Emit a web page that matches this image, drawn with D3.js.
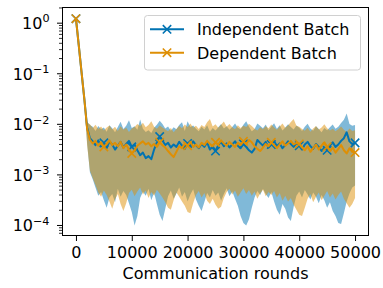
<!DOCTYPE html>
<html>
<head>
<meta charset="utf-8">
<script src="https://cdn.jsdelivr.net/npm/d3@7"></script>
<style>
  body { margin: 0; background: #fff; }
  svg { display: block; font-family: "DejaVu Sans", sans-serif; }
</style>
</head>
<body>
<svg id="chart" width="383" height="288"></svg>
<script>
// communication rounds, one sample every 500 rounds
const rounds = d3.range(0, 50001, 500);

// Independent Batch: mean, upper and lower edge of the shaded band
const indepMean = [1.2,0.36,0.105,0.031,0.0085,0.0052,0.0045,0.0038,0.0047,0.0036,
  0.0042,0.0033,0.0045,0.0039,0.0031,0.0037,0.0044,0.0034,0.0040,0.0046,
  0.0035,0.0039,0.0030,0.0024,0.0027,0.0021,0.0023,0.0020,0.0031,0.0043,
  0.0056,0.0047,0.0038,0.0042,0.0034,0.0039,0.0035,0.0044,0.0037,0.0032,
  0.0041,0.0036,0.0045,0.0038,0.0033,0.0040,0.0035,0.0043,0.0031,0.0036,
  0.0029,0.0038,0.0044,0.0036,0.0041,0.0034,0.0039,0.0045,0.0037,0.0033,
  0.0040,0.0035,0.0030,0.0027,0.0032,0.0048,0.0042,0.0037,0.0044,0.0034,
  0.0039,0.0046,0.0036,0.0041,0.0033,0.0038,0.0045,0.0040,0.0035,0.0042,
  0.0037,0.0031,0.0039,0.0044,0.0036,0.0032,0.0040,0.0035,0.0029,0.0034,
  0.0030,0.0037,0.0043,0.0035,0.0039,0.0046,0.0052,0.0068,0.0045,0.0040,
  0.0042];
const indepUpper = [1.25,0.38,0.11,0.034,0.011,0.0095,0.0088,0.0072,0.0091,0.0078,
  0.0085,0.0070,0.0094,0.0082,0.0068,0.0087,0.0110,0.0079,0.0092,0.0118,
  0.0083,0.0090,0.0076,0.0122,0.0080,0.0069,0.0075,0.0066,0.0084,0.0096,
  0.0115,0.0099,0.0081,0.0089,0.0073,0.0086,0.0078,0.0095,0.0108,0.0072,
  0.0112,0.0087,0.0093,0.0080,0.0071,0.0088,0.0077,0.0094,0.0070,0.0083,
  0.0074,0.0086,0.0099,0.0081,0.0090,0.0076,0.0087,0.0102,0.0084,0.0078,
  0.0096,0.0113,0.0088,0.0071,0.0079,0.0101,0.0092,0.0082,0.0097,0.0075,
  0.0089,0.0103,0.0080,0.0094,0.0074,0.0085,0.0098,0.0087,0.0077,0.0093,
  0.0084,0.0072,0.0088,0.0100,0.0081,0.0073,0.0090,0.0079,0.0068,0.0083,
  0.0075,0.0086,0.0097,0.0080,0.0088,0.0104,0.0121,0.0160,0.0099,0.0092,
  0.0095];
const indepLower = [1.15,0.34,0.10,0.028,0.0042,0.0011,0.0008,0.00055,0.00038,0.00045,
  0.00031,0.00022,0.00035,0.00041,0.00028,0.00052,0.00036,0.00047,0.00039,0.00027,
  0.00018,0.000098,0.00015,0.00034,0.00046,0.00038,0.00052,0.00031,0.00044,0.00026,
  0.00016,0.00012,0.00021,0.00037,0.00048,0.00033,0.00042,0.00055,0.00036,0.00045,
  0.00029,0.00040,0.00051,0.00032,0.00024,0.00019,0.00028,0.00043,0.00035,0.00049,
  0.00038,0.00044,0.00030,0.00041,0.00053,0.00037,0.00046,0.00033,0.00024,0.00015,
  0.00011,0.000098,0.00013,0.00022,0.00035,0.00047,0.00039,0.00052,0.00041,0.00034,
  0.00045,0.00029,0.00020,0.00016,0.00026,0.00021,0.00014,0.00012,0.00023,0.00038,
  0.00046,0.00035,0.00049,0.00040,0.00032,0.00044,0.00036,0.00027,0.00039,0.00031,
  0.00022,0.00028,0.00019,0.00015,0.00011,0.000105,0.00017,0.00029,0.00042,0.00055,
  0.00060];

// Dependent Batch
const depMean = [1.2,0.36,0.105,0.031,0.0080,0.0048,0.0041,0.0046,0.0037,0.0043,
  0.0035,0.0040,0.0047,0.0038,0.0042,0.0036,0.0044,0.0033,0.0039,0.0031,
  0.0026,0.0030,0.0037,0.0041,0.0045,0.0039,0.0042,0.0036,0.0040,0.0035,
  0.0043,0.0038,0.0034,0.0029,0.0025,0.0022,0.0028,0.0036,0.0033,0.0041,
  0.0037,0.0044,0.0035,0.0039,0.0034,0.0042,0.0038,0.0046,0.0040,0.0036,
  0.0043,0.0039,0.0047,0.0041,0.0037,0.0044,0.0039,0.0035,0.0042,0.0038,
  0.0045,0.0040,0.0048,0.0043,0.0036,0.0032,0.0029,0.0034,0.0040,0.0036,
  0.0043,0.0038,0.0033,0.0039,0.0045,0.0037,0.0041,0.0046,0.0039,0.0042,
  0.0040,0.0034,0.0030,0.0036,0.0028,0.0033,0.0039,0.0031,0.0037,0.0043,
  0.0035,0.0029,0.0034,0.0027,0.0032,0.0038,0.0030,0.0026,0.0033,0.0028,
  0.0027];
const depUpper = [1.25,0.38,0.11,0.034,0.0105,0.0098,0.0083,0.0096,0.0079,0.0089,
  0.0074,0.0085,0.0093,0.0077,0.0088,0.0072,0.0090,0.0076,0.0084,0.0069,
  0.0081,0.0087,0.0099,0.0091,0.0105,0.0086,0.0095,0.0112,0.0088,0.0080,
  0.0093,0.0085,0.0077,0.0071,0.0083,0.0068,0.0079,0.0091,0.0082,0.0097,
  0.0086,0.0101,0.0084,0.0092,0.0079,0.0095,0.0087,0.0108,0.0125,0.0089,
  0.0098,0.0084,0.0096,0.0111,0.0088,0.0099,0.0086,0.0078,0.0094,0.0083,
  0.0092,0.0087,0.0100,0.0091,0.0080,0.0074,0.0086,0.0078,0.0090,0.0082,
  0.0097,0.0085,0.0076,0.0089,0.0102,0.0084,0.0093,0.0109,0.0124,0.0092,
  0.0088,0.0079,0.0073,0.0084,0.0070,0.0081,0.0091,0.0077,0.0085,0.0098,
  0.0082,0.0074,0.0080,0.0071,0.0078,0.0089,0.0076,0.0069,0.0081,0.0072,
  0.0075];
const depLower = [1.15,0.34,0.10,0.028,0.0038,0.0012,0.00085,0.00062,0.00044,0.00036,
  0.00048,0.00039,0.00029,0.00021,0.00032,0.00041,0.00026,0.00019,0.00027,0.00043,
  0.00050,0.00037,0.00046,0.00055,0.00040,0.00048,0.00034,0.00045,0.00038,0.00050,
  0.00042,0.00035,0.00028,0.00022,0.00020,0.00031,0.00044,0.00036,0.00029,0.00024,
  0.00018,0.00017,0.00027,0.00039,0.00047,0.00035,0.00043,0.00030,0.00026,0.00033,
  0.00025,0.00021,0.00023,0.00034,0.00045,0.00052,0.00040,0.00048,0.00036,0.00044,
  0.00053,0.00041,0.00049,0.00038,0.00046,0.00033,0.00042,0.00050,0.00037,0.00045,
  0.00039,0.00047,0.00035,0.00043,0.00030,0.00038,0.00029,0.00034,0.00025,0.00020,
  0.00016,0.00015,0.00022,0.00033,0.00041,0.00028,0.00036,0.00044,0.00031,0.00038,
  0.00047,0.00035,0.00042,0.00032,0.00039,0.00046,0.00033,0.00027,0.00022,0.00026,
  0.00034];

const seriesNames = ["Independent Batch", "Dependent Batch"];
const xTicks = [0, 10000, 20000, 30000, 40000, 50000];
const yTickExps = [0, -1, -2, -3, -4];
const xLabel = "Communication rounds";

const series = [
  { name: seriesNames[0], mean: indepMean, upper: indepUpper, lower: indepLower, color: "#0173b2" },
  { name: seriesNames[1], mean: depMean, upper: depUpper, lower: depLower, color: "#de8f05" }
];

const L = 62, T = 7, R = 369, B = 236;
const svg = d3.select("#chart");

const x = d3.scaleLinear().domain([-2500, 52500]).range([L, R]);
const y = d3.scaleLog().domain([Math.pow(10, -4.218), Math.pow(10, 0.31)]).range([B, T]);

svg.append("defs").append("clipPath").attr("id", "plotclip")
  .append("rect").attr("x", L).attr("y", T).attr("width", R - L).attr("height", B - T);

const plot = svg.append("g").attr("clip-path", "url(#plotclip)");

// bands first, lines on top
series.forEach(s => {
  const area = d3.area()
    .x((d, i) => x(rounds[i]))
    .y0((d, i) => y(s.lower[i]))
    .y1((d, i) => y(s.upper[i]));
  plot.append("path")
    .attr("d", area(s.mean))
    .attr("fill", s.color)
    .attr("fill-opacity", 0.5)
    .attr("stroke", "none");
});

const markerPath = "M-4.2,-4.2L4.2,4.2M-4.2,4.2L4.2,-4.2";

series.forEach(s => {
  const line = d3.line()
    .x((d, i) => x(rounds[i]))
    .y(d => y(d));
  plot.append("path")
    .attr("d", line(s.mean))
    .attr("fill", "none")
    .attr("stroke", s.color)
    .attr("stroke-width", 2)
    .attr("stroke-linejoin", "round");

  // marker every 5000 rounds
  plot.selectAll(null)
    .data(s.mean.filter((d, i) => i % 10 === 0))
    .enter().append("path")
    .attr("d", markerPath)
    .attr("transform", (d, k) => `translate(${x(rounds[k * 10])},${y(d)})`)
    .attr("stroke", s.color)
    .attr("stroke-width", 1.6)
    .attr("fill", "none");
});

// frame
svg.append("rect")
  .attr("x", L + 0.5).attr("y", T + 0.5)
  .attr("width", R - L - 1).attr("height", B - T - 1)
  .attr("fill", "none").attr("stroke", "#000").attr("stroke-width", 1);

// x axis
const xAxis = svg.append("g")
  .attr("transform", `translate(0,${B})`)
  .call(d3.axisBottom(x).tickValues(xTicks).tickFormat(d3.format("d")).tickSize(5).tickPadding(6));
xAxis.select(".domain").remove();
xAxis.selectAll("line").attr("stroke", "#000");
xAxis.selectAll("text").attr("font-size", 16).attr("fill", "#000")
  .attr("font-family", "DejaVu Sans, sans-serif");

// y axis, major and minor ticks
const minorVals = [];
for (let e = -5; e <= 0; e++) {
  for (let m = 2; m <= 9; m++) {
    const v = m * Math.pow(10, e);
    if (v >= y.domain()[0] && v <= y.domain()[1]) minorVals.push(v);
  }
}
const yMinor = svg.append("g").attr("transform", `translate(${L},0)`)
  .call(d3.axisLeft(y).tickValues(minorVals).tickFormat("").tickSize(3));
yMinor.select(".domain").remove();
yMinor.selectAll("line").attr("stroke", "#000").attr("stroke-width", 0.8);

const yMajor = svg.append("g").attr("transform", `translate(${L},0)`)
  .call(d3.axisLeft(y).tickValues(yTickExps.map(e => Math.pow(10, e))).tickFormat("").tickSize(5));
yMajor.select(".domain").remove();
yMajor.selectAll("line").attr("stroke", "#000");

const yLabels = svg.append("g");
yTickExps.forEach(e => {
  const t = yLabels.append("text")
    .attr("x", 49.5)
    .attr("y", y(Math.pow(10, e)) + 6.3)
    .attr("text-anchor", "end")
    .attr("font-size", 16)
    .attr("fill", "#000");
  t.append("tspan").text("10");
  t.append("tspan").attr("dy", -6.5).attr("font-size", 11.2)
    .text(e === 0 ? "0" : "\u2212" + Math.abs(e));
});

// x label
svg.append("text")
  .attr("x", (L + R) / 2)
  .attr("y", 279)
  .attr("text-anchor", "middle")
  .attr("font-size", 16)
  .attr("fill", "#000")
  .text(xLabel);

// legend
const lg = svg.append("g");
lg.append("rect")
  .attr("x", 144.5).attr("y", 15.5).attr("width", 216).attr("height", 54.5)
  .attr("rx", 3).attr("fill", "#fff").attr("fill-opacity", 0.8)
  .attr("stroke", "#d0d0d0").attr("stroke-width", 1);
series.forEach((s, k) => {
  const ry = 29.3 + k * 23.4;
  lg.append("line").attr("x1", 150).attr("x2", 184).attr("y1", ry).attr("y2", ry)
    .attr("stroke", s.color).attr("stroke-width", 2);
  lg.append("path").attr("d", markerPath).attr("transform", `translate(167,${ry})`)
    .attr("stroke", s.color).attr("stroke-width", 1.6).attr("fill", "none");
  lg.append("text").attr("x", 197).attr("y", ry + 5.8)
    .attr("font-size", 16).attr("fill", "#000").text(s.name);
});
</script>
</body>
</html>
